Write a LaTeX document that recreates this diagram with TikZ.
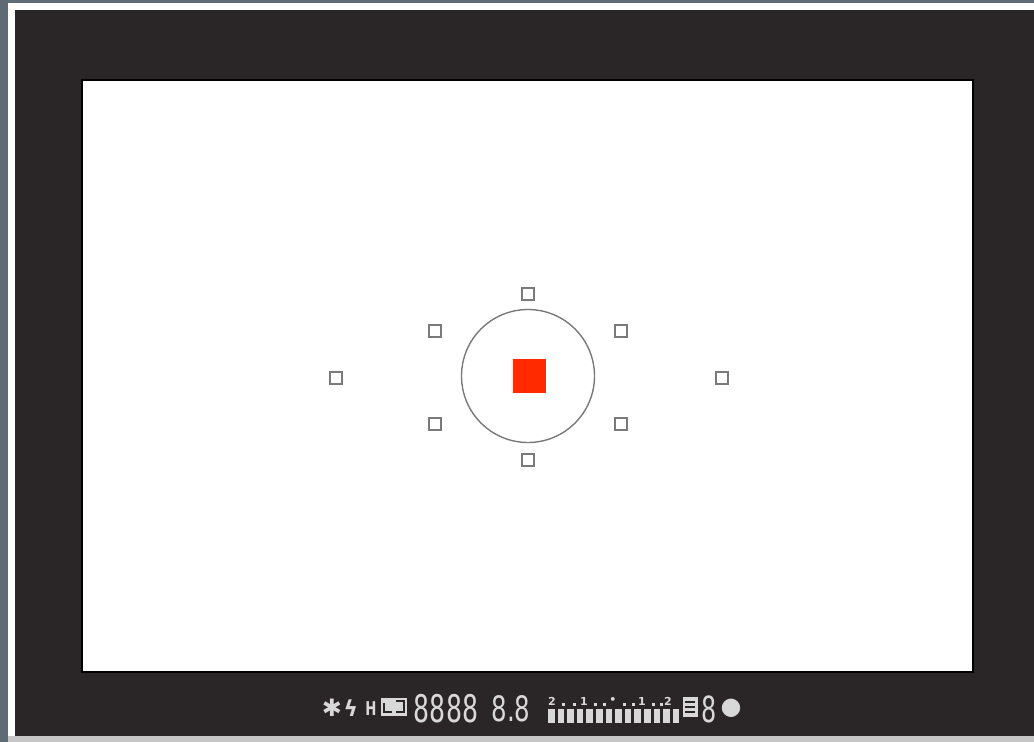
\documentclass[tikz,border=0pt]{standalone}
\usepackage{fontspec}
\newfontfamily\lcd[FakeStretch=0.7]{DejaVu Sans Mono}
\newfontfamily\lcdp[FakeStretch=0.7]{DejaVu Sans}
\newfontfamily\sym{DejaVu Sans}
\definecolor{bgblue}{HTML}{5E6A74}
\definecolor{frame}{HTML}{2A2526}
\definecolor{afgray}{HTML}{7A7A7A}
\definecolor{afred}{HTML}{FF2A00}
\definecolor{lcdw}{HTML}{D8D8D8}
\tikzset{
  afpoint/.style={draw=afgray, line width=1.4pt, fill=white, minimum width=12pt, minimum height=12pt, inner sep=0pt},
  lcdtext/.style={text=lcdw, inner sep=0pt, anchor=center},
  scalemark/.style={text=lcdw, inner sep=0pt, anchor=center, font=\sym\fontsize{11}{11}\selectfont\bfseries}
}
\begin{document}
\begin{tikzpicture}[x=1pt,y=-1pt]
\useasboundingbox (0,0) rectangle (1034,742);
% background and frame
\fill[bgblue] (0,0) rectangle (1034,742);
\fill[white] (8,3) rectangle (1034,742);
\fill[gray!45] (8,736) rectangle (1034,742);
\fill[frame] (15,10) rectangle (1034,736);
\fill[white, draw=black, line width=1.2pt] (82,80) rectangle (973,672);
% focusing circle and AF points
\node[draw=afgray, line width=1.4pt, circle, minimum size=133pt, inner sep=0pt] (circ) at (528,376) {};
\node[fill=afred, minimum width=33pt, minimum height=34pt, inner sep=0pt] (center) at (529,376) {};
\node[afpoint] (pt) at (528,294) {};
\node[afpoint] (pb) at (528,460) {};
\node[afpoint] (pul) at (435,331) {};
\node[afpoint] (pur) at (621,331) {};
\node[afpoint] (pll) at (435,424) {};
\node[afpoint] (plr) at (621,424) {};
\node[afpoint] (pl) at (336,378) {};
\node[afpoint] (pr) at (722,378) {};
% viewfinder information strip
\node[lcdtext, font=\sym\fontsize{24}{24}\selectfont\bfseries] (ael) at (332,708) {✱};
\node[lcdtext, font=\sym\fontsize{22}{22}\selectfont\bfseries] (flash) at (351,708) {ϟ};
\node[lcdtext, font=\lcdp\fontsize{19}{19}\selectfont\bfseries] (hss) at (371,709) {H};
\node[fill=lcdw, minimum width=26pt, minimum height=18pt, inner sep=0pt] (fel) at (394,707) {};
\draw[frame, line width=1.6pt] (384,703) -- (384,712) -- (392,712) (396,701) -- (404,701) -- (404,712) -- (396,712);
\node[lcdtext, font=\lcd\fontsize{38}{38}\selectfont] (tv) at (446,709) {8888};
\node[lcdtext, font=\lcdp\fontsize{35}{35}\selectfont] (av) at (511,709) {8.8};
% exposure level scale
\node[scalemark] (s1) at (552,701) {2};
\node[scalemark] (s2) at (584,701) {1};
\node[scalemark] (s3) at (613,700) {•};
\node[scalemark] (s4) at (642,701) {1};
\node[scalemark] (s5) at (668,701) {2};
\foreach \x in {562,573,594,603,623,632,652,660} {
  \fill[lcdw] (\x,703) rectangle ++(3,3);
}
\foreach \i in {0,...,13} {
  \fill[lcdw] ({548+9.6*\i},709) rectangle ({554.5+9.6*\i},723);
}
\node[fill=lcdw, minimum width=15pt, minimum height=20pt, inner sep=0pt] (iso) at (690,707) {};
\draw[frame, line width=1.2pt] (685,702) -- (695,702) (685,707) -- (695,707) (685,712) -- (695,712);
\node[lcdtext, font=\lcd\fontsize{36}{36}\selectfont] (burst) at (709,709) {8};
\node[lcdtext, font=\sym\fontsize{24}{24}\selectfont] (focus) at (731,708) {●};
\end{tikzpicture}
\end{document}
